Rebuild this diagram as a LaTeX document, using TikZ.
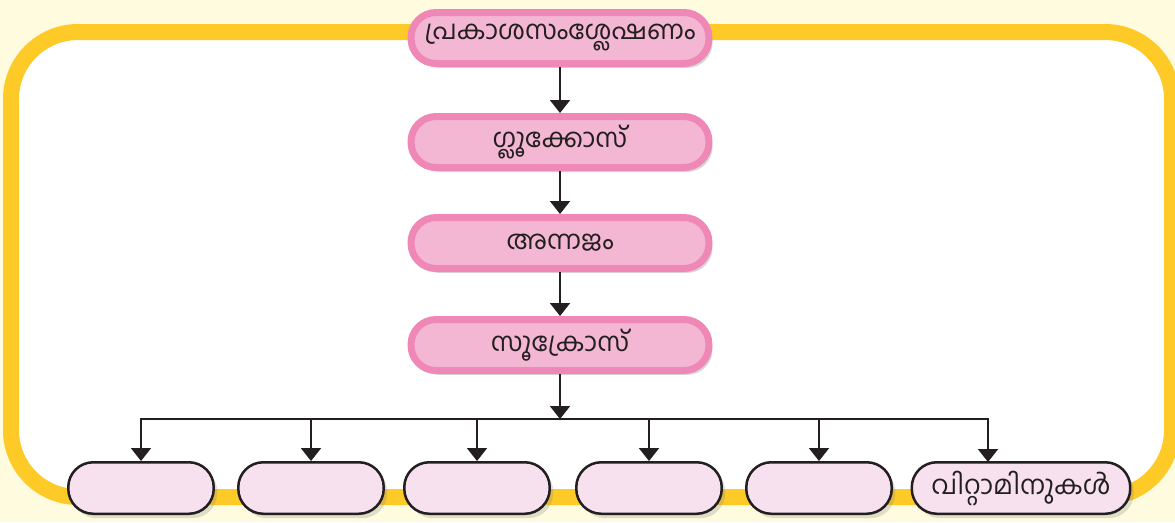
\documentclass[tikz,border=0pt]{standalone}
\usepackage{fontspec}
\usepackage{tikz}
\usetikzlibrary{arrows.meta,shadows}
\newfontfamily\malfont[Script=Malayalam]{Hind Kochi}

\definecolor{paper}{HTML}{FFFBDF}
\definecolor{frameyellow}{HTML}{FDCA28}
\definecolor{pinkedge}{HTML}{EF88B7}
\definecolor{pinkfill}{HTML}{F3B6D3}
\definecolor{palepink}{HTML}{F7E1EE}
\definecolor{ink}{HTML}{231F20}

\tikzset{
    pinkbox/.style={draw=pinkedge, fill=pinkfill, line width=0.14cm,
        minimum width=5.96cm, minimum height=1.02cm, rounded corners=0.5cm,
        font=\malfont\fontsize{15}{18}\selectfont, text=ink,
        drop shadow={shadow xshift=2pt, shadow yshift=-2.5pt, opacity=0.3}},
    leafbox/.style={draw=ink, fill=palepink, line width=0.05cm,
        minimum width=2.91cm, minimum height=1.03cm, rounded corners=0.5cm,
        font=\malfont\fontsize{15}{18}\selectfont, text=ink,
        drop shadow={shadow xshift=2pt, shadow yshift=-2.5pt, opacity=0.25}},
    link/.style={draw=ink, line width=0.04cm, -{Triangle[width=0.4cm, length=0.26cm]}}
}

\begin{document}
\begin{tikzpicture}[x=0.02cm, y=-0.02cm]
            \useasboundingbox (0,0) rectangle (1175,522);
            \fill[paper] (0,0) rectangle (1175,522);
            \draw[frameyellow, fill=white, line width=0.32cm, rounded corners=1.34cm] (11,32) rectangle (1172,497);

            \coordinate (p1) at (560,38);
            \coordinate (p2) at (560,142);
            \coordinate (p3) at (560,243);
            \coordinate (p4) at (560,345);
            \coordinate (split) at (560,419);

            \node[pinkbox] (photo) at (p1) {പ്രകാശസംശ്ലേഷണം};
            \node[pinkbox] (glucose) at (p2) {ഗ്ലൂക്കോസ്};
            \node[pinkbox] (starch) at (p3) {അന്നജം};
            \node[pinkbox] (sucrose) at (p4) {സൂക്രോസ്};

            \node[leafbox] (b1) at (141,488) {};
            \node[leafbox] (b2) at (311,488) {};
            \node[leafbox] (b3) at (477,488) {};
            \node[leafbox] (b4) at (649,488) {};
            \node[leafbox] (b5) at (819,488) {};
            \node[leafbox, minimum width=4.37cm] (b6) at (1021,488) {വിറ്റാമിനുകൾ};
            \coordinate (d6) at (988,462);

            \draw[link] (photo) -- (glucose);
            \draw[link] (glucose) -- (starch);
            \draw[link] (starch) -- (sucrose);
            \draw[link] (sucrose) -- (split);

            \draw[link] (split) -| (b1.north);
            \draw[link] (split) -| (b2.north);
            \draw[link] (split) -| (b3.north);
            \draw[link] (split) -| (b4.north);
            \draw[link] (split) -| (b5.north);
            \draw[link] (split) -| (d6);
        \end{tikzpicture}
\end{document}
